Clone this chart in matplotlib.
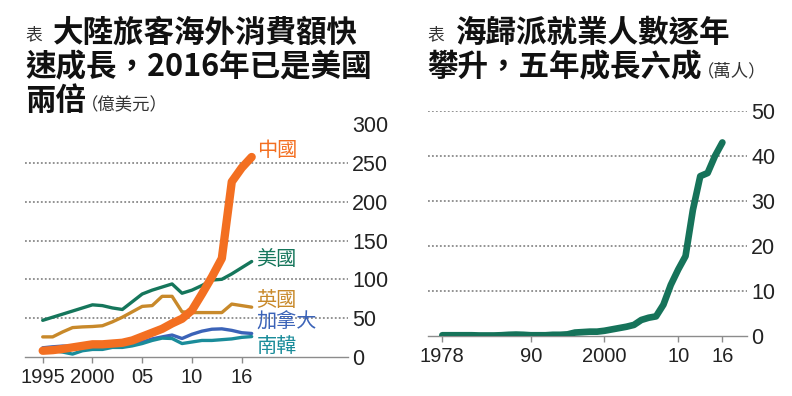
import matplotlib
matplotlib.use("Agg")
import matplotlib.pyplot as plt

# --- data ---
spend_years = list(range(1995, 2017))
china = [7.7, 8.5, 10, 12, 14, 16, 16, 17, 18, 21, 26, 31, 36, 43, 49, 60, 81, 103, 127, 226, 244, 258]
usa = [47, 51, 55, 59, 63, 67, 66, 63, 61, 71, 81, 86, 90, 94, 82, 86, 92, 99, 100, 107, 115, 123]
uk = [25.6, 25.6, 32, 37.6, 38.5, 39, 40, 45, 51, 58, 65, 66, 78, 78, 58, 57, 57, 57, 57, 68, 66, 64]
canada = [11.5, 12.8, 13.7, 13.7, 14.5, 15, 15, 14, 14, 17, 19, 23, 25.6, 28, 23.5, 29, 33, 35.5, 36, 34, 31, 30]
korea = [8.5, 8, 6, 3.4, 7.7, 9.4, 9.4, 12, 12, 14, 17, 21, 24, 23.5, 17, 19, 21, 21, 22, 23, 25, 26]
spend_names = ["中國", "美國", "英國", "加拿大", "南韓"]
spend_label_y = [267, 125, 73, 45, 13]
spend_xticks = [1995, 2000, 2005, 2010, 2015]
spend_xticklabels = ["1995", "2000", "05", "10", "16"]
spend_yticks = [0, 50, 100, 150, 200, 250, 300]

ret_years = list(range(1978, 2017))
returnees = [0.1, 0.1, 0.1, 0.1, 0.1, 0.05, 0.05, 0.05, 0.1, 0.2,
             0.25, 0.2, 0.1, 0.1, 0.1, 0.2, 0.2, 0.3, 0.7, 0.8,
             0.9, 0.9, 1.1, 1.4, 1.7, 2.0, 2.4, 3.5, 4.0, 4.3,
             6.9, 11.3, 14.7, 17.7, 28, 35.5, 36.2, 40, 43]
ret_xticks = [1978, 1990, 2000, 2010, 2016]
ret_xticklabels = ["1978", "90", "2000", "10", "16"]
ret_yticks = [0, 10, 20, 30, 40, 50]

# --- style ---
W, H = 792, 396
CJK = ["Noto Sans CJK TC", "DejaVu Sans"]
plt.rcParams["font.family"] = ["Liberation Sans", "DejaVu Sans"]
GRID = "#8a8a8a"
AXIS = "#8c8c8c"
colors = ["#f36f21", "#15765b", "#c8892a", "#3b63b8", "#1a8c9a"]
widths = [6.0, 2.4, 2.4, 2.4, 2.4]

fig = plt.figure(figsize=(W / 100, H / 100), dpi=100)


def make_axes(left, right, top, bottom):
    return fig.add_axes([left / W, 1 - bottom / H, (right - left) / W, (bottom - top) / H])


def style(ax, yticks, xticks, xticklabels, top_from=0.0):
    for s in ["top", "left", "right"]:
        ax.spines[s].set_visible(False)
    ax.spines["bottom"].set_color(AXIS)
    ax.spines["bottom"].set_linewidth(1.0)
    ax.yaxis.tick_right()
    ax.set_yticks(yticks)
    ax.set_xticks(xticks)
    ax.set_xticklabels(xticklabels)
    ax.tick_params(axis="y", length=0, pad=3, labelsize=15.5, labelcolor="#222222")
    ax.tick_params(axis="x", length=4, width=1, color=AXIS, pad=4, labelsize=14.5, labelcolor="#222222")
    for v in yticks[1:]:
        xmin = top_from if v == yticks[-1] else 0.0
        ax.axhline(v, xmin=xmin, color=GRID, lw=1.3, ls=(0, (1, 1.2)), zorder=1)


# left chart: spending
ax1 = make_axes(25, 348, 124.5, 356.7)
ax1.set_xlim(1993.22, 2025.68)
ax1.set_ylim(0, 300)
style(ax1, spend_yticks, spend_xticks, spend_xticklabels, top_from=0.54)

series = [china, usa, uk, canada, korea]
order = [1, 2, 3, 4, 0]
for i in order:
    ax1.plot(spend_years, series[i], color=colors[i], lw=widths[i],
             solid_capstyle="round", solid_joinstyle="round", zorder=3 + (i == 0))
for name, c, ly in zip(spend_names, colors, spend_label_y):
    ax1.text(2016.5, ly, name, color=c, fontsize=14.5, family=CJK,
             ha="left", va="center", clip_on=False)

# right chart: returnees
ax2 = make_axes(428, 747, 111, 335.7)
ax2.set_xlim(1976.06, 2019.34)
ax2.set_ylim(0, 50)
style(ax2, ret_yticks, ret_xticks, ret_xticklabels)
ax2.plot(ret_years, returnees, color="#16735a", lw=4.8,
         solid_capstyle="round", solid_joinstyle="round", zorder=3)


# --- titles ---
def put(x, y, s, size, weight="bold", color="#111111"):
    return fig.text(x / W, 1 - y / H, s, fontsize=size, fontweight=weight,
                    family=CJK, color=color, ha="left", va="center")


def right_edge(t):
    fig.canvas.draw()
    return t.get_window_extent().x1


put(25, 35, "表", 12, weight="normal", color="#333333")
put(53, 33, "大陸旅客海外消費額快", 22)
put(25, 67, "速成長，2016年已是美國", 22)
t = put(25, 101, "兩倍", 22)
put(right_edge(t) - 5, 105, "（億美元）", 12.5, weight="normal", color="#333333")

put(427, 35, "表", 12, weight="normal", color="#333333")
put(456, 33, "海歸派就業人數逐年", 22)
t = put(427, 67, "攀升，五年成長六成", 22)
put(right_edge(t) - 5, 71, "（萬人）", 12.5, weight="normal", color="#333333")

fig.savefig("out.png", dpi=100)
